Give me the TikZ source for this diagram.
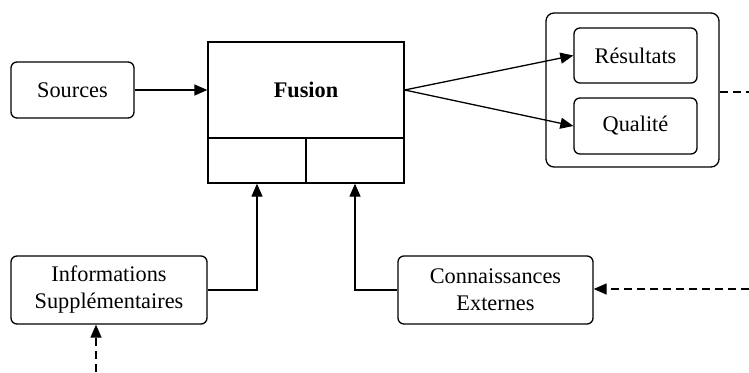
\documentclass[tikz,border=0pt]{standalone}
\usepackage{fontspec}
\setmainfont{Liberation Serif}
\usetikzlibrary{arrows.meta}
\begin{document}
\begin{tikzpicture}[x=1pt,y=-1pt,
  every node/.style={font=\fontsize{22.3}{27}\selectfont},
  rbox/.style={draw,rounded corners=6pt,line width=1.3pt,inner sep=0pt,align=center},
  sbox/.style={draw,line width=1.3pt,inner sep=0pt},
  conn/.style={line width=1.3pt,-{Triangle[length=13pt,width=11pt]}},
  dconn/.style={line width=1.3pt,dash pattern=on 8pt off 5pt,-{Triangle[length=13pt,width=11pt]}}]
\useasboundingbox (0,0) rectangle (749,372);
\node[rbox,minimum width=123pt,minimum height=56pt] (src) at (72.5,90) {Sources};
\node[sbox,minimum width=196pt,minimum height=96pt] (ftop) at (306,90) {\textbf{Fusion}};
\node[sbox,minimum width=98pt,minimum height=45pt] (fl) at (257,160.5) {};
\node[sbox,minimum width=98pt,minimum height=45pt] (fr) at (355,160.5) {};
\node[rbox,rounded corners=8pt,minimum width=173pt,minimum height=154pt] (outer) at (632.5,90) {};
\node[rbox,minimum width=123pt,minimum height=55pt] (res) at (635.5,55.5) {Résultats};
\node[rbox,minimum width=123pt,minimum height=56pt] (qual) at (635.5,126) {Qualité};
\node[rbox,minimum width=196pt,minimum height=68pt] (info) at (109,290) {Informations\\Supplémentaires};
\node[rbox,minimum width=195pt,minimum height=68pt] (kn) at (495.5,290) {Connaissances\\Externes};
\coordinate (outR) at (749,92);
\coordinate (knR) at (749,289);
\coordinate (infB) at (96,372);
\draw[conn] (src) -- (ftop);
\draw[conn] (ftop.east) -- (res.west);
\draw[conn] (ftop.east) -- (qual.west);
\draw[conn] (info.east) -| (fl.south);
\draw[conn] (kn.west) -| (fr.south);
\draw[line width=1.3pt,dash pattern=on 8pt off 5pt] (outer.east |- outR) -- (outR);
\draw[dconn] (knR) -- (kn.east |- knR);
\draw[dconn] (infB) -- (infB |- info.south);
\end{tikzpicture}
\end{document}
